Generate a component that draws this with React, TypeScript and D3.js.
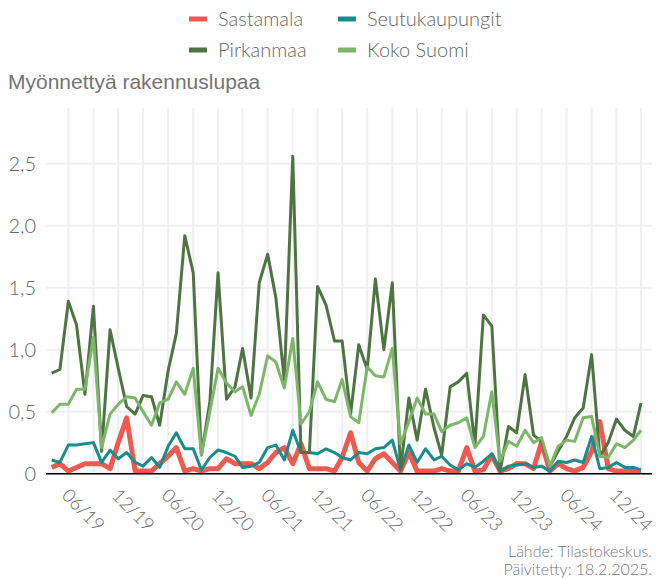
import React from "react";
import * as d3 from "d3";

// monthly series, April 2019 .. March 2025
const sastamala = [
  0.05, 0.08, 0.02, 0.05, 0.08, 0.08, 0.08, 0.04, 0.25, 0.45, 0.02, 0.02,
  0.02, 0.08, 0.14, 0.21, 0.02, 0.04, 0.02, 0.04, 0.04, 0.12, 0.08, 0.08,
  0.08, 0.04, 0.09, 0.17, 0.21, 0.08, 0.24, 0.04, 0.04, 0.04, 0.02, 0.13,
  0.33, 0.09, 0.02, 0.12, 0.16, 0.09, 0.02, 0.17, 0.02, 0.02, 0.02, 0.04,
  0.02, 0.02, 0.21, 0.02, 0.03, 0.15, 0.02, 0.04, 0.08, 0.08, 0.04, 0.25,
  0.02, 0.08, 0.04, 0.02, 0.05, 0.18, 0.42, 0.04, 0.02, 0.02, 0.02, 0.02,
];
const seutukaupungit = [
  0.11, 0.09, 0.23, 0.23, 0.24, 0.25, 0.09, 0.19, 0.12, 0.17, 0.09, 0.06,
  0.13, 0.05, 0.22, 0.33, 0.2, 0.2, 0.03, 0.13, 0.19, 0.17, 0.14, 0.05,
  0.06, 0.09, 0.21, 0.23, 0.11, 0.35, 0.17, 0.17, 0.16, 0.2, 0.17, 0.13,
  0.11, 0.17, 0.16, 0.2, 0.21, 0.27, 0.03, 0.23, 0.09, 0.2, 0.11, 0.14,
  0.07, 0.03, 0.08, 0.05, 0.1, 0.16, 0.02, 0.06, 0.07, 0.08, 0.05, 0.06,
  0.02, 0.1, 0.09, 0.11, 0.09, 0.3, 0.04, 0.05, 0.09, 0.05, 0.05, 0.03,
];
const pirkanmaa = [
  0.81, 0.84, 1.39, 1.2, 0.64, 1.35, 0.18, 1.16, 0.85, 0.54, 0.48, 0.63,
  0.62, 0.39, 0.83, 1.13, 1.92, 1.62, 0.15, 0.58, 1.62, 0.6, 0.7, 1.01,
  0.61, 1.54, 1.77, 1.42, 0.75, 2.56, 0.17, 0.17, 1.51, 1.36, 1.07, 1.07,
  0.48, 1.04, 0.84, 1.57, 1.0, 1.54, 0.03, 0.61, 0.27, 0.68, 0.37, 0.15,
  0.7, 0.74, 0.81, 0.23, 1.28, 1.19, 0.02, 0.38, 0.33, 0.8, 0.31, 0.26,
  0.06, 0.18, 0.3, 0.45, 0.53, 0.96, 0.14, 0.25, 0.44, 0.35, 0.3, 0.57,
];
const kokoSuomi = [
  0.49, 0.56, 0.56, 0.68, 0.68, 1.1, 0.21, 0.48, 0.56, 0.62, 0.61, 0.5,
  0.39, 0.57, 0.6, 0.74, 0.64, 0.85, 0.15, 0.5, 0.85, 0.73, 0.66, 0.7,
  0.47, 0.64, 0.95, 0.9, 0.69, 1.09, 0.4, 0.5, 0.74, 0.6, 0.58, 0.76,
  0.46, 0.41, 0.86, 0.79, 0.78, 1.01, 0.24, 0.42, 0.61, 0.48, 0.48, 0.34,
  0.39, 0.41, 0.45, 0.21, 0.3, 0.66, 0.1, 0.26, 0.22, 0.35, 0.25, 0.29,
  0.06, 0.22, 0.27, 0.26, 0.45, 0.46, 0.14, 0.13, 0.24, 0.21, 0.27, 0.35,
];

const seriesNames = ["Sastamala", "Seutukaupungit", "Pirkanmaa", "Koko Suomi"];
const seriesValues = [sastamala, seutukaupungit, pirkanmaa, kokoSuomi];
const colors = ["#ed5a4f", "#1b8c89", "#4f7443", "#7db66b"];
const widths = [5, 3, 3, 3];
const yTicks = [0, 0.5, 1, 1.5, 2, 2.5];

const months = d3.timeMonths(new Date(2019, 3, 1), new Date(2025, 3, 1));

const fi = d3.formatLocale({ decimal: ",", thousands: " ", grouping: [3], currency: ["", "€"] });
const fmt = (v: number) => (v === 0 ? "0" : fi.format(".1f")(v));
const monthFmt = d3.timeFormat("%m/%y");

export default function App() {
  const width = 658;
  const height = 578;
  const plotLeft = 46;
  const plotRight = 652;
  const plotTop = 108;

  const x = d3.scaleTime().domain([months[0], months[months.length - 1]]).range([51.7, 641]);
  const y = d3.scaleLinear().domain([0, 2.95]).range([473.6, plotTop]);

  const line = d3
    .line<number>()
    .x((_, i) => x(months[i]))
    .y((d) => y(d));

  const gridMonths = months.filter((_, i) => i % 3 === 2);
  const labelMonths = months.filter((_, i) => i % 6 === 2);

  const light = { fontFamily: "Lato, sans-serif", fontWeight: 300 };

  return (
    <svg width={width} height={height} style={{ display: "block", position: "absolute", left: 0, top: 0 }}>
      <rect width={width} height={height} fill="#fff" />

      {/* legend */}
      {seriesNames.map((name, i) => {
        const col = i % 2;
        const row = Math.floor(i / 2);
        const lx = col === 0 ? 189 : 338;
        const ly = row === 0 ? 19 : 50;
        return (
          <g key={name}>
            <rect x={lx} y={ly - 2.5} width={18} height={5} fill={colors[i]} />
            <text x={lx + 29} y={ly} dy="0.35em" fontSize={20} fill="#666" style={light}>
              {name}
            </text>
          </g>
        );
      })}

      <text x={8} y={82} dy="0.35em" fontSize={21} fill="#737373" fontFamily="'Liberation Sans', Arial, sans-serif">
        Myönnettyä rakennuslupaa
      </text>

      {/* grid */}
      {gridMonths.map((d) => (
        <line key={+d} x1={x(d)} x2={x(d)} y1={plotTop} y2={473.6} stroke="#efefef" strokeWidth={2} />
      ))}
      {yTicks.map((t) => (
        <line key={t} x1={plotLeft} x2={plotRight} y1={y(t)} y2={y(t)} stroke="#efefef" strokeWidth={2} />
      ))}

      {/* y labels */}
      {yTicks.map((t) => (
        <text key={t} x={36} y={y(t)} dy="0.35em" textAnchor="end" fontSize={20} fill="#666" style={light}>
          {fmt(t)}
        </text>
      ))}

      {/* lines */}
      {seriesValues.map((vals, i) => (
        <path
          key={seriesNames[i]}
          d={line(vals) || ""}
          fill="none"
          stroke={colors[i]}
          strokeWidth={widths[i]}
          strokeLinejoin="round"
        />
      ))}

      <line x1={plotLeft} x2={plotRight} y1={473.8} y2={473.8} stroke="#000" strokeWidth={1.5} />

      {/* x labels */}
      {labelMonths.map((d) => (
        <text
          key={+d}
          transform={`translate(${x(d) - 3},492) rotate(45)`}
          dy="0.35em"
          fontSize={18.5}
          fill="#666"
          style={light}
        >
          {monthFmt(d)}
        </text>
      ))}

      <text x={652} y={557} textAnchor="end" fontSize={16} fill="#777" style={light}>
        Lähde: Tilastokeskus.
      </text>
      <text x={652} y={575} textAnchor="end" fontSize={16} fill="#777" style={light}>
        Päivitetty: 18.2.2025.
      </text>
    </svg>
  );
}
